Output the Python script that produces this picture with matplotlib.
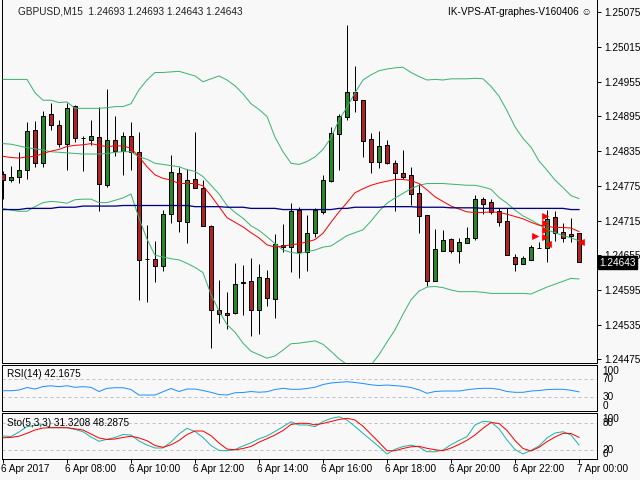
import matplotlib.pyplot as plt
from matplotlib.transforms import blended_transform_factory

plt.rcParams['font.family'] = ['Liberation Sans', 'DejaVu Sans']

# GBPUSD M15, 6 Apr 2017 06:00 -> 7 Apr 00:00 (73 bars)
opens = [1.24795, 1.24785, 1.24791, 1.24802, 1.24871, 1.24814, 1.24899, 1.24880, 1.24847, 1.24913,
         1.24857, 1.24855, 1.24859, 1.24777, 1.24855, 1.24836, 1.24862, 1.24833, 1.24649, 1.24649,
         1.24636, 1.24727, 1.24798, 1.24712, 1.24786, 1.24771, 1.24706, 1.24560, 1.24555, 1.24555,
         1.24607, 1.24610, 1.24560, 1.24615, 1.24579, 1.24673, 1.24670, 1.24733, 1.24661, 1.24693,
         1.24730, 1.24783, 1.24865, 1.24894, 1.24937, 1.24923, 1.24856, 1.24817, 1.24845, 1.24814,
         1.24797, 1.24794, 1.24763, 1.24724, 1.24611, 1.24663, 1.24683, 1.24663, 1.24676, 1.24684,
         1.24752, 1.24747, 1.24732, 1.24714, 1.24652, 1.24639, 1.24647, 1.24668, 1.24667, 1.24721,
         1.24695, 1.24692, 1.24693]
highs = [1.24801, 1.24809, 1.24833, 1.24885, 1.24887, 1.24904, 1.24919, 1.24889, 1.24919, 1.24915,
         1.24861, 1.24889, 1.24911, 1.24942, 1.24895, 1.24868, 1.24885, 1.24868, 1.24707, 1.24680,
         1.24733, 1.24828, 1.24807, 1.24804, 1.24868, 1.24785, 1.24707, 1.24612, 1.24592, 1.24641,
         1.24638, 1.24650, 1.24640, 1.24629, 1.24692, 1.24709, 1.24745, 1.24738, 1.24725, 1.24737,
         1.24794, 1.24876, 1.24900, 1.25053, 1.24982, 1.24923, 1.24866, 1.24870, 1.24854, 1.24820,
         1.24837, 1.24808, 1.24779, 1.24724, 1.24700, 1.24699, 1.24684, 1.24684, 1.24703, 1.24759,
         1.24756, 1.24752, 1.24736, 1.24737, 1.24657, 1.24654, 1.24673, 1.24678, 1.24733, 1.24731,
         1.24711, 1.24719, 1.24693]
lows = [1.24752, 1.24782, 1.24780, 1.24787, 1.24808, 1.24808, 1.24872, 1.24842, 1.24802, 1.24851,
        1.24801, 1.24845, 1.24731, 1.24773, 1.24827, 1.24793, 1.24802, 1.24578, 1.24574, 1.24609,
        1.24627, 1.24710, 1.24696, 1.24676, 1.24771, 1.24706, 1.24494, 1.24537, 1.24527, 1.24554,
        1.24552, 1.24515, 1.24518, 1.24567, 1.24547, 1.24661, 1.24626, 1.24616, 1.24627, 1.24686,
        1.24727, 1.24781, 1.24802, 1.24888, 1.24903, 1.24824, 1.24798, 1.24806, 1.24812, 1.24732,
        1.24787, 1.24742, 1.24693, 1.24602, 1.24611, 1.24663, 1.24659, 1.24641, 1.24676, 1.24681,
        1.24727, 1.24726, 1.24706, 1.24655, 1.24627, 1.24639, 1.24647, 1.24667, 1.24644, 1.24680,
        1.24678, 1.24678, 1.24643]
closes = [1.24785, 1.24790, 1.24802, 1.24869, 1.24814, 1.24895, 1.24880, 1.24847, 1.24909, 1.24857,
          1.24857, 1.24861, 1.24778, 1.24854, 1.24836, 1.24861, 1.24833, 1.24646, 1.24649, 1.24636,
          1.24727, 1.24799, 1.24714, 1.24785, 1.24771, 1.24706, 1.24561, 1.24553, 1.24551, 1.24606,
          1.24608, 1.24561, 1.24617, 1.24581, 1.24674, 1.24669, 1.24731, 1.24661, 1.24693, 1.24733,
          1.24785, 1.24866, 1.24895, 1.24937, 1.24924, 1.24853, 1.24816, 1.24844, 1.24814, 1.24798,
          1.24791, 1.24761, 1.24723, 1.24611, 1.24665, 1.24681, 1.24663, 1.24678, 1.24684, 1.24753,
          1.24743, 1.24730, 1.24712, 1.24655, 1.24639, 1.24650, 1.24669, 1.24668, 1.24717, 1.24693,
          1.24684, 1.24688, 1.24643]

bb_upper = [1.24959, 1.24959, 1.24959, 1.24959, 1.24936, 1.24923, 1.24923, 1.24919, 1.24920, 1.24909,
            1.24909, 1.24909, 1.24909, 1.24910, 1.24912, 1.24912, 1.24917, 1.24941, 1.24958, 1.24971,
            1.24971, 1.24972, 1.24973, 1.24969, 1.24965, 1.24955, 1.24960, 1.24965, 1.24958, 1.24948,
            1.24934, 1.24917, 1.24907, 1.24895, 1.24859, 1.24834, 1.24814, 1.24812, 1.24817, 1.24825,
            1.24838, 1.24858, 1.24889, 1.24911, 1.24936, 1.24958, 1.24967, 1.24974, 1.24977, 1.24979,
            1.24980, 1.24971, 1.24964, 1.24958, 1.24959, 1.24958, 1.24960, 1.24960, 1.24960, 1.24961,
            1.24960, 1.24947, 1.24930, 1.24905, 1.24877, 1.24857, 1.24842, 1.24818, 1.24802, 1.24785,
            1.24772, 1.24758, 1.24753]
bb_mid = [1.24848, 1.24847, 1.24844, 1.24841, 1.24839, 1.24837, 1.24834, 1.24833, 1.24832, 1.24831,
          1.24830, 1.24830, 1.24830, 1.24831, 1.24833, 1.24834, 1.24834, 1.24825, 1.24821, 1.24814,
          1.24812, 1.24810, 1.24808, 1.24803, 1.24800, 1.24791, 1.24776, 1.24761, 1.24741, 1.24729,
          1.24719, 1.24706, 1.24698, 1.24687, 1.24675, 1.24664, 1.24660, 1.24658, 1.24661, 1.24664,
          1.24669, 1.24671, 1.24680, 1.24689, 1.24694, 1.24699, 1.24714, 1.24731, 1.24745, 1.24754,
          1.24762, 1.24770, 1.24776, 1.24779, 1.24779, 1.24779, 1.24778, 1.24777, 1.24776, 1.24776,
          1.24773, 1.24769, 1.24755, 1.24745, 1.24733, 1.24723, 1.24716, 1.24708, 1.24699, 1.24694,
          1.24689, 1.24685, 1.24680]
bb_lower = [1.24736, 1.24733, 1.24731, 1.24731, 1.24739, 1.24746, 1.24748, 1.24747, 1.24745, 1.24751,
            1.24752, 1.24752, 1.24746, 1.24746, 1.24750, 1.24754, 1.24761, 1.24719, 1.24683, 1.24655,
            1.24652, 1.24649, 1.24647, 1.24641, 1.24634, 1.24625, 1.24587, 1.24559, 1.24535, 1.24522,
            1.24503, 1.24489, 1.24483, 1.24477, 1.24481, 1.24491, 1.24502, 1.24503, 1.24505, 1.24507,
            1.24501, 1.24489, 1.24476, 1.24466, 1.24455, 1.24451, 1.24465, 1.24483, 1.24505, 1.24526,
            1.24553, 1.24578, 1.24593, 1.24600, 1.24601, 1.24599, 1.24595, 1.24592, 1.24592, 1.24592,
            1.24591, 1.24589, 1.24589, 1.24589, 1.24589, 1.24589, 1.24588, 1.24594, 1.24600, 1.24605,
            1.24610, 1.24615, 1.24614]
ma_red = [1.24826, 1.24824, 1.24823, 1.24825, 1.24826, 1.24831, 1.24835, 1.24838, 1.24843, 1.24845,
          1.24846, 1.24848, 1.24845, 1.24843, 1.24844, 1.24844, 1.24840, 1.24825, 1.24808, 1.24794,
          1.24788, 1.24785, 1.24779, 1.24779, 1.24779, 1.24775, 1.24758, 1.24739, 1.24720, 1.24712,
          1.24704, 1.24694, 1.24685, 1.24673, 1.24669, 1.24671, 1.24673, 1.24675, 1.24678, 1.24682,
          1.24693, 1.24712, 1.24730, 1.24746, 1.24763, 1.24770, 1.24776, 1.24780, 1.24783, 1.24786,
          1.24786, 1.24784, 1.24779, 1.24768, 1.24756, 1.24748, 1.24740, 1.24735, 1.24730, 1.24729,
          1.24729, 1.24730, 1.24729, 1.24726, 1.24722, 1.24718, 1.24712, 1.24707, 1.24705, 1.24703,
          1.24703, 1.24702, 1.24696]
ma_navy = [1.24734, 1.24734, 1.24734, 1.24736, 1.24736, 1.24736, 1.24736, 1.24738, 1.24738, 1.24738,
           1.24740, 1.24740, 1.24740, 1.24740, 1.24740, 1.24741, 1.24741, 1.24741, 1.24741, 1.24741,
           1.24741, 1.24741, 1.24741, 1.24741, 1.24739, 1.24739, 1.24739, 1.24739, 1.24738, 1.24738,
           1.24738, 1.24736, 1.24736, 1.24736, 1.24736, 1.24734, 1.24734, 1.24734, 1.24734, 1.24734,
           1.24734, 1.24734, 1.24736, 1.24736, 1.24738, 1.24738, 1.24738, 1.24738, 1.24739, 1.24739,
           1.24739, 1.24739, 1.24738, 1.24738, 1.24738, 1.24738, 1.24737, 1.24737, 1.24737, 1.24737,
           1.24736, 1.24736, 1.24736, 1.24736, 1.24736, 1.24736, 1.24736, 1.24736, 1.24736, 1.24736,
           1.24736, 1.24734, 1.24734]

rsi = [44.7, 44.7, 46.2, 51.8, 48.4, 54.0, 55.6, 53.6, 55.8, 52.2,
       53.6, 52.2, 42.9, 50.0, 51.3, 51.3, 47.3, 35.1, 35.1, 35.1,
       42.4, 49.6, 42.9, 48.4, 48.4, 45.1, 41.1, 36.2, 35.1, 40.2,
       40.7, 42.9, 41.3, 42.4, 47.3, 50.0, 47.8, 47.8, 49.6, 52.4,
       58.4, 61.8, 63.3, 64.7, 62.9, 60.7, 57.8, 56.2, 57.3, 56.0,
       54.4, 51.8, 46.7, 38.9, 42.9, 44.0, 44.0, 44.0, 46.7, 48.9,
       50.0, 50.0, 47.8, 42.9, 41.1, 41.1, 44.0, 45.1, 47.1, 47.8,
       47.8, 45.6, 42.17]
sto_main = [51.5, 50.3, 60.4, 72.4, 75.0, 77.3, 70.1, 70.1, 70.1, 66.1,
            61.1, 49.2, 39.6, 44.0, 48.1, 54.8, 53.7, 40.2, 31.2, 24.5,
            24.5, 38.0, 56.0, 68.8, 61.6, 48.1, 30.1, 18.9, 18.4, 21.1,
            29.0, 36.2, 45.2, 51.5, 61.6, 72.4, 83.4, 76.2, 76.2, 72.4,
            84.0, 90.8, 94.6, 87.4, 72.8, 57.5, 42.5, 27.4, 11.0, 21.6,
            27.9, 30.8, 26.7, 16.2, 16.0, 20.0, 31.9, 41.3, 49.9, 76.2,
            84.5, 82.9, 67.6, 42.5, 21.1, 11.0, 19.3, 29.0, 47.0, 58.2,
            61.1, 53.7, 31.32]
sto_signal = [47.6, 48.3, 51.0, 57.5, 64.9, 69.4, 70.1, 70.1, 70.1, 67.6,
              64.9, 56.0, 47.0, 43.6, 44.7, 48.1, 51.0, 47.0, 40.9, 30.1,
              26.1, 31.7, 41.3, 54.8, 62.7, 62.7, 52.1, 35.7, 22.2, 20.4,
              23.4, 27.9, 37.5, 45.4, 53.7, 63.8, 77.3, 80.0, 80.0, 76.6,
              79.6, 84.0, 88.5, 91.2, 87.4, 73.3, 55.3, 37.3, 18.4, 18.4,
              23.4, 27.2, 28.3, 23.8, 20.7, 18.4, 24.5, 32.4, 41.8, 53.7,
              68.8, 81.8, 79.6, 63.8, 41.3, 23.4, 17.8, 26.1, 38.7, 49.2,
              57.5, 57.1, 48.29]

# trade arrows drawn on the chart (bar position, price)
arrows_right_x = [66.5, 67.75, 67.75, 67.75, 67.75]
arrows_right_y = [1.24688, 1.24723, 1.24711, 1.24699, 1.24686]
arrows_left_x = [68.1, 72.25]
arrows_left_y = [1.24674, 1.24678]

price_ticks = [1.25075, 1.25015, 1.24955, 1.24895, 1.24835, 1.24775,
               1.24715, 1.24655, 1.24595, 1.24535, 1.24475]
date_labels = ['6 Apr 2017', '6 Apr 08:00', '6 Apr 10:00', '6 Apr 12:00', '6 Apr 14:00',
               '6 Apr 16:00', '6 Apr 18:00', '6 Apr 20:00', '6 Apr 22:00', '7 Apr 00:00']
date_bars = [0, 8, 16, 24, 32, 40, 48, 56, 64, 72]

BG = '#f8f8f8'
PX = 0.72  # one pixel in points at dpi 100
FS = 7.2

fig = plt.figure(figsize=(6.4, 4.8), dpi=100, facecolor=BG)


def px_axes(x0, y0, x1, y1):
    return fig.add_axes([x0 / 640, 1 - y1 / 480, (x1 - x0) / 640, (y1 - y0) / 480])


ax = px_axes(2, 0, 597, 363)
ax_rsi = px_axes(2, 365, 597, 411)
ax_sto = px_axes(2, 413, 597, 459)

xlim = (-0.125, 74.25)
for a in (ax, ax_rsi, ax_sto):
    a.set_facecolor(BG)
    a.set_xlim(*xlim)
    a.set_xticks([])
    for s in a.spines.values():
        s.set_color('black')
        s.set_linewidth(PX)
ax.spines['top'].set_visible(False)

# ---- main price chart ----
ax.set_ylim(1.244687, 1.250963)
n = len(closes)
xs = list(range(n))
ax.vlines(xs, lows, highs, color='black', lw=PX, zorder=2)
for i in xs:
    o, c = opens[i], closes[i]
    if c > o:
        fc = '#228b22'
    elif c < o:
        fc = '#b22222'
    else:
        fc = 'black'
    ax.bar(i, c - o, bottom=o, width=0.55, color=fc, edgecolor='black',
           linewidth=PX, zorder=3)

ax.plot(xs, bb_upper, color='#3cb371', lw=PX, zorder=4)
ax.plot(xs, bb_mid, color='#3cb371', lw=PX, zorder=4)
ax.plot(xs, bb_lower, color='#3cb371', lw=PX, zorder=4)
ax.plot(xs, ma_red, color='red', lw=PX, zorder=4)
ax.plot(xs, ma_navy, color='#000080', lw=PX * 1.3, zorder=4)
ax.plot(arrows_right_x, arrows_right_y, ls='none', marker='>', ms=5, color='red',
        markeredgewidth=0.5, zorder=5)
ax.plot(arrows_left_x, arrows_left_y, ls='none', marker='<', ms=5, color='red',
        markeredgewidth=0.5, zorder=5)

ax.yaxis.tick_right()
ax.set_yticks(price_ticks)
ax.set_yticklabels([f'{p:.5f}' for p in price_ticks])
ax.tick_params(axis='y', length=3, width=PX, pad=2, labelsize=FS, colors='black')

fig.text(18 / 640, 1 - 11 / 480, 'GBPUSD,M15  1.24693 1.24693 1.24643 1.24643',
         fontsize=FS, va='center', ha='left', color='#202020')
fig.text(592 / 640, 1 - 12 / 480, 'IK-VPS-AT-graphes-V160406 \u263a',
         fontsize=FS, va='center', ha='right', color='black')
fig.text(599 / 640, 1 - 262.5 / 480, '1.24643', fontsize=FS, va='center', ha='left',
         color='white', zorder=10,
         bbox=dict(boxstyle='square,pad=0.15', facecolor='black', edgecolor='black'))

# ---- RSI ----
ax_rsi.set_ylim(-0.4, 101.8)
ax_rsi.set_yticks([])
for lvl in (70, 30):
    ax_rsi.axhline(lvl, color='#c0c0c0', lw=PX, ls=(0, (3, 3)), zorder=1)
ax_rsi.plot(xs, rsi, color='#1e90ff', lw=PX, zorder=3)
tr = blended_transform_factory(ax_rsi.transAxes, ax_rsi.transData)
ax_rsi.text(1.009, 100, '100', transform=tr, fontsize=FS, va='top', ha='left')
ax_rsi.text(1.009, 70, '70', transform=tr, fontsize=FS, va='center', ha='left')
ax_rsi.text(1.009, 30, '30', transform=tr, fontsize=FS, va='center', ha='left')
ax_rsi.text(1.009, 0, '0', transform=tr, fontsize=FS, va='bottom', ha='left')
fig.text(7 / 640, 1 - 374 / 480, 'RSI(14) 42.1675', fontsize=FS, va='center', ha='left')

# ---- Stochastic ----
ax_sto.set_ylim(-0.2, 103.1)
ax_sto.set_yticks([])
for lvl in (80, 20):
    ax_sto.axhline(lvl, color='#c0c0c0', lw=PX, ls=(0, (3, 3)), zorder=1)
ax_sto.plot(xs, sto_main, color='#20b2aa', lw=PX, zorder=3)
ax_sto.plot(xs, sto_signal, color='red', lw=PX, zorder=3)
tr = blended_transform_factory(ax_sto.transAxes, ax_sto.transData)
ax_sto.text(1.009, 100, '100', transform=tr, fontsize=FS, va='top', ha='left')
ax_sto.text(1.009, 80, '80', transform=tr, fontsize=FS, va='center', ha='left')
ax_sto.text(1.009, 20, '20', transform=tr, fontsize=FS, va='center', ha='left')
ax_sto.text(1.009, 0, '0', transform=tr, fontsize=FS, va='bottom', ha='left')
fig.text(7 / 640, 1 - 423 / 480, 'Sto(5,3,3) 31.3208 48.2875', fontsize=FS,
         va='center', ha='left')

# time axis
ax_sto.set_xticks(date_bars)
ax_sto.set_xticklabels([])
ax_sto.tick_params(axis='x', length=3, width=PX, direction='out')
trx = blended_transform_factory(ax_sto.transData, ax_sto.transAxes)
for b, lab in zip(date_bars, date_labels):
    ax_sto.text(b - 0.2, -0.22, lab, transform=trx, fontsize=FS, va='center',
                ha='left', clip_on=False)

fig.savefig('out.png', dpi=100, facecolor=BG)
